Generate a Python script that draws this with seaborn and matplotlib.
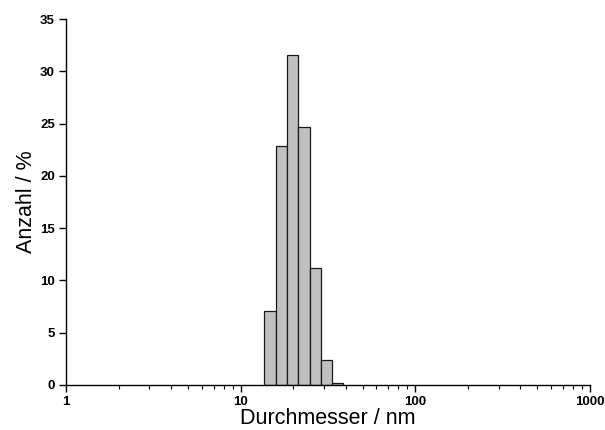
import numpy as np
import pandas as pd
import matplotlib
matplotlib.use("Agg")
import matplotlib.pyplot as plt
import matplotlib.ticker as mticker
import seaborn as sns

# Size distribution (number-weighted) on a logarithmic diameter axis
bin_edges_nm = [13.7, 16.0, 18.5, 21.4, 24.9, 28.7, 33.4, 38.8]
anzahl_pct = [7.1, 22.9, 31.6, 24.7, 11.2, 2.4, 0.2]
x_ticks = [1, 10, 100, 1000]
x_tick_labels = ["1", "10", "100", "1000"]
y_ticks = [0, 5, 10, 15, 20, 25, 30, 35]

sns.set_theme(style="ticks")
plt.rcParams["font.family"] = ["Liberation Sans", "DejaVu Sans"]
plt.rcParams["text.color"] = "black"
plt.rcParams["axes.labelcolor"] = "black"
plt.rcParams["xtick.color"] = "black"
plt.rcParams["ytick.color"] = "black"

edges = np.array(bin_edges_nm)
df = pd.DataFrame({
    "durchmesser": np.sqrt(edges[:-1] * edges[1:]),
    "anzahl": anzahl_pct,
})
log_bins = [float(v) for v in np.log10(edges)]

fig = plt.figure(figsize=(6.05, 4.3), dpi=100)
ax = fig.add_axes([0.109, 0.1047, 0.866, 0.851])

sns.histplot(data=df, x="durchmesser", weights="anzahl", bins=log_bins,
             log_scale=True, stat="count", color="#c0c0c0", edgecolor="black",
             linewidth=0.9, alpha=1.0, ax=ax)
for bar in ax.patches:
    bar.set_facecolor("#c0c0c0")
    bar.set_edgecolor("#1a1a1a")

ax.set_xlim(1, 1000)
ax.set_ylim(0, 35)
ax.set_xticks(x_ticks)
ax.set_xticklabels(x_tick_labels)
ax.xaxis.set_minor_locator(mticker.LogLocator(base=10, subs=np.arange(2, 10)))
ax.xaxis.set_minor_formatter(mticker.NullFormatter())
ax.set_yticks(y_ticks)

for lab in ax.get_xticklabels() + ax.get_yticklabels():
    lab.set_fontweight("bold")
    lab.set_fontsize(9.5)
    lab.set_color("black")

ax.tick_params(axis="both", which="major", direction="out", length=5, width=1,
               color="black", pad=3)
ax.tick_params(axis="x", which="minor", direction="out", length=3, width=0.8,
               color="black")

ax.set_xlabel("Durchmesser / nm", fontsize=15.5, labelpad=0, color="black")
ax.set_ylabel("Anzahl / %", fontsize=15.5, labelpad=2, color="black")

for side in ("top", "right"):
    ax.spines[side].set_visible(False)
for side in ("left", "bottom"):
    ax.spines[side].set_color("black")
    ax.spines[side].set_linewidth(1)

fig.savefig("out.png", dpi=100, facecolor="white")
